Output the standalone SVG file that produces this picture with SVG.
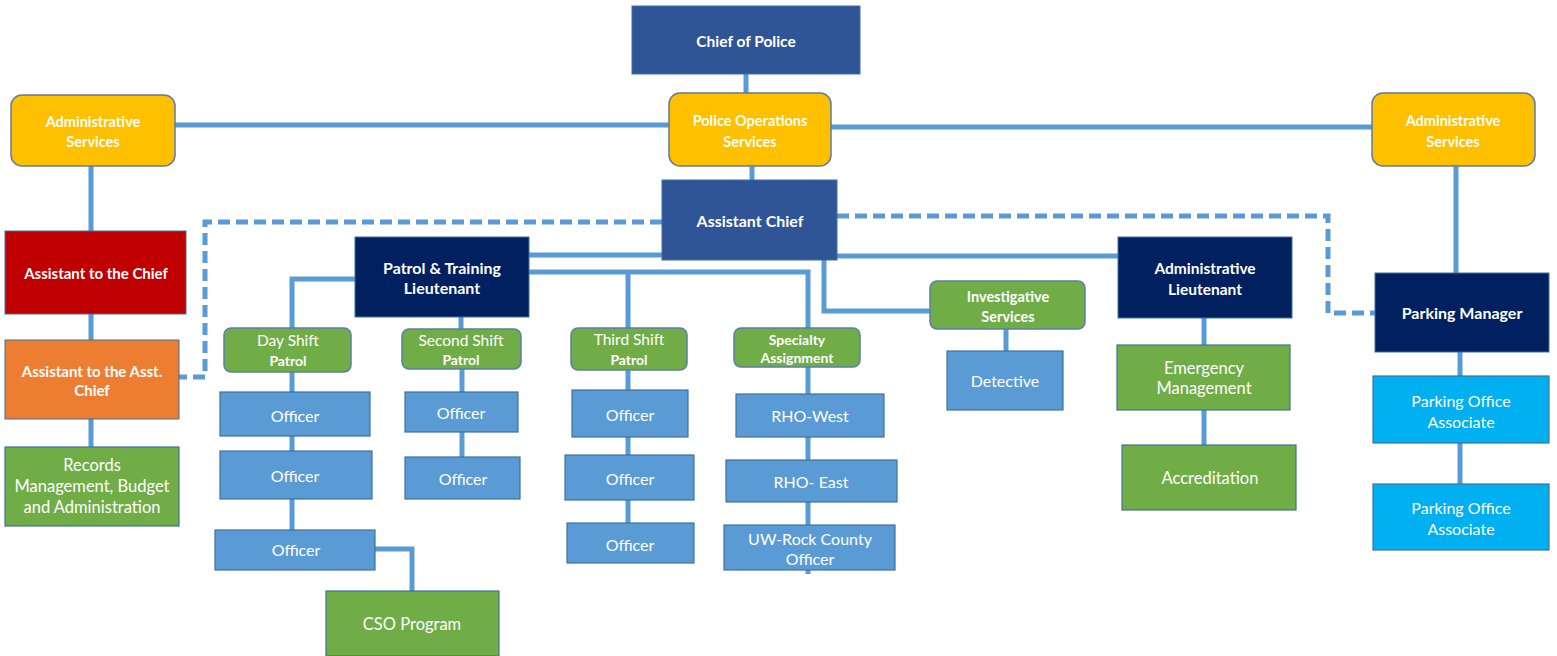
<svg xmlns="http://www.w3.org/2000/svg" width="1557" height="656" viewBox="0 0 1557 656">
<style>
text{font-family:Lato,"Open Sans","Liberation Sans",sans-serif;fill:#fff;text-anchor:middle;dominant-baseline:central}
.b{font-weight:bold}
.c{fill:none;stroke:#5B9BD5;stroke-width:5}
.d{fill:none;stroke:#5B9BD5;stroke-width:5;stroke-dasharray:12 6}
.navy{fill:#2F5597;stroke:#41719C;stroke-width:1}
.dark{fill:#002060;stroke:#41719C;stroke-width:1}
.gold{fill:#FFC000;stroke:#607C9C;stroke-width:1.5}
.green{fill:#70AD47;stroke:#41719C;stroke-width:1.2}
.grn{fill:#70AD47;stroke:#5B7FA8;stroke-width:1.5}
.blue{fill:#5B9BD5;stroke:#41719C;stroke-width:1.2}
.cyan{fill:#00B0F0;stroke:#41719C;stroke-width:1.2}
.red{fill:#C00000;stroke:#41719C;stroke-width:1}
.orange{fill:#ED7D31;stroke:#41719C;stroke-width:1}
</style>
<rect width="1557" height="656" fill="#fff"/>
<g id="connectors">
<path class="c" d="M746 74V93"/>
<path class="c" d="M175 125H669"/>
<path class="c" d="M831 127H1372"/>
<path class="c" d="M752 166V180"/>
<path class="c" d="M91 166V231M91 314V340M91 419V447"/>
<path class="d" d="M662 222H205V377H179"/>
<path class="d" d="M837 216H1328V313H1375"/>
<path class="c" d="M529 255H662"/>
<path class="c" d="M837 256H1118"/>
<path class="c" d="M529 272H808V328M628 272V328"/>
<path class="c" d="M355 279H292V328"/>
<path class="c" d="M461 317V329"/>
<path class="c" d="M824 260V311H930"/>
<path class="c" d="M1006 329V351"/>
<path class="c" d="M1204 318V345M1204 410V445"/>
<path class="c" d="M1456 166V273"/>
<path class="c" d="M1460 352V376M1460 443V484"/>
<path class="c" d="M292 372V530"/>
<path class="c" d="M375 549H412V591"/>
<path class="c" d="M462 369V457"/>
<path class="c" d="M628 370V523"/>
<path class="c" d="M808 367V574"/>
</g>
<g id="chief"><rect class="navy" x="632" y="6" width="228" height="68"/><text class="b" x="746" y="41" font-size="15.5">Chief of Police</text></g>
<g id="pos"><rect class="gold" x="669" y="93" width="162" height="73" rx="11"/><text class="b" x="750" y="120" font-size="14.5">Police Operations</text><text class="b" x="750" y="141" font-size="14.5">Services</text></g>
<g id="admin-left"><rect class="gold" x="11" y="95" width="164" height="71" rx="11"/><text class="b" x="93" y="121" font-size="14.5">Administrative</text><text class="b" x="93" y="141" font-size="14.5">Services</text></g>
<g id="admin-right"><rect class="gold" x="1372" y="93" width="163" height="73" rx="11"/><text class="b" x="1453" y="120" font-size="14.5">Administrative</text><text class="b" x="1453" y="141" font-size="14.5">Services</text></g>
<g id="asst-chief"><rect class="navy" x="662" y="180" width="175" height="80"/><text class="b" x="750" y="220" font-size="16">Assistant Chief</text></g>
<g id="asst-to-chief"><rect class="red" x="5" y="231" width="181" height="83"/><text class="b" x="96" y="273" font-size="15">Assistant to the Chief</text></g>
<g id="asst-to-asst"><rect class="orange" x="5" y="340" width="174" height="79"/><text class="b" x="92" y="371" font-size="15">Assistant to the Asst.</text><text class="b" x="92" y="390" font-size="15">Chief</text></g>
<g id="records"><rect class="green" x="5" y="447" width="174" height="79"/><text x="92" y="465" font-size="16.5">Records</text><text x="92" y="486" font-size="16.5">Management, Budget</text><text x="92" y="507" font-size="16.5">and Administration</text></g>
<g id="patrol-lt"><rect class="dark" x="355" y="237" width="174" height="80"/><text class="b" x="442" y="267" font-size="16">Patrol &amp; Training</text><text class="b" x="442" y="287" font-size="16">Lieutenant</text></g>
<g id="day-shift"><rect class="grn" x="224" y="328" width="127" height="44" rx="7"/><text x="288" y="340" font-size="15.5">Day Shift</text><text class="b" x="288" y="360" font-size="14">Patrol</text></g>
<g id="second-shift"><rect class="grn" x="402" y="329" width="119" height="40" rx="7"/><text x="461" y="340" font-size="15.5">Second Shift</text><text class="b" x="461" y="359" font-size="14">Patrol</text></g>
<g id="third-shift"><rect class="grn" x="571" y="328" width="116" height="42" rx="7"/><text x="629" y="339" font-size="15.5">Third Shift</text><text class="b" x="629" y="359" font-size="14">Patrol</text></g>
<g id="specialty"><rect class="grn" x="734" y="328" width="126" height="39" rx="7"/><text class="b" x="797" y="339" font-size="14">Specialty</text><text class="b" x="797" y="357" font-size="14">Assignment</text></g>
<g id="investigative"><rect class="grn" x="930" y="281" width="155" height="48" rx="7"/><text class="b" x="1008" y="296" font-size="14.5">Investigative</text><text class="b" x="1008" y="316" font-size="14.5">Services</text></g>
<g id="admin-lt"><rect class="dark" x="1118" y="237" width="174" height="81"/><text class="b" x="1205" y="268" font-size="15.5">Administrative</text><text class="b" x="1205" y="289" font-size="15.5">Lieutenant</text></g>
<g id="parking-mgr"><rect class="dark" x="1375" y="273" width="174" height="79"/><text class="b" x="1462" y="312" font-size="16">Parking Manager</text></g>
<g id="day-o1"><rect class="blue" x="220" y="392" width="150" height="44"/><text x="295" y="415" font-size="16">Officer</text></g>
<g id="day-o2"><rect class="blue" x="220" y="451" width="152" height="48"/><text x="295" y="475" font-size="16">Officer</text></g>
<g id="day-o3"><rect class="blue" x="215" y="530" width="160" height="40"/><text x="296" y="549" font-size="16">Officer</text></g>
<g id="cso"><rect class="green" x="326" y="591" width="173" height="65"/><text x="412" y="624" font-size="16.5">CSO Program</text></g>
<g id="sec-o1"><rect class="blue" x="405" y="392" width="113" height="40"/><text x="461" y="412" font-size="16">Officer</text></g>
<g id="sec-o2"><rect class="blue" x="405" y="457" width="115" height="42"/><text x="463" y="478" font-size="16">Officer</text></g>
<g id="third-o1"><rect class="blue" x="572" y="390" width="116" height="47"/><text x="630" y="414" font-size="16">Officer</text></g>
<g id="third-o2"><rect class="blue" x="565" y="455" width="129" height="45"/><text x="630" y="478" font-size="16">Officer</text></g>
<g id="third-o3"><rect class="blue" x="567" y="523" width="127" height="40"/><text x="630" y="544" font-size="16">Officer</text></g>
<g id="rho-west"><rect class="blue" x="736" y="394" width="148" height="43"/><text x="810" y="415" font-size="16">RHO-West</text></g>
<g id="rho-east"><rect class="blue" x="726" y="460" width="171" height="42"/><text x="811" y="481" font-size="16">RHO- East</text></g>
<g id="uw-rock"><rect class="blue" x="724" y="525" width="171" height="45"/><text x="810" y="538" font-size="16">UW-Rock County</text><text x="810" y="558" font-size="16">Officer</text></g>
<g id="detective"><rect class="blue" x="947" y="351" width="116" height="59"/><text x="1005" y="380" font-size="16">Detective</text></g>
<g id="emergency"><rect class="green" x="1117" y="345" width="173" height="65"/><text x="1204" y="368" font-size="16.5">Emergency</text><text x="1204" y="388" font-size="16.5">Management</text></g>
<g id="accreditation"><rect class="green" x="1122" y="445" width="174" height="65"/><text x="1210" y="478" font-size="16.5">Accreditation</text></g>
<g id="poa1"><rect class="cyan" x="1373" y="376" width="176" height="67"/><text x="1461" y="400" font-size="16">Parking Office</text><text x="1461" y="421" font-size="16">Associate</text></g>
<g id="poa2"><rect class="cyan" x="1373" y="484" width="176" height="66"/><text x="1461" y="507" font-size="16">Parking Office</text><text x="1461" y="528" font-size="16">Associate</text></g>
</svg>
